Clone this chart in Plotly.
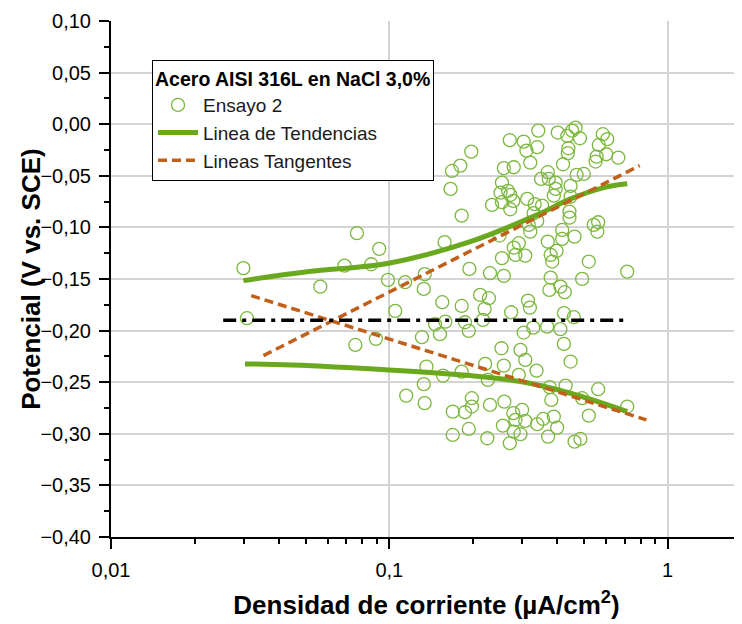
import plotly.graph_objects as go

# Scatter data (Ensayo 2): current density (µA/cm²) and potential (V vs SCE)
ens_x = [0.0299, 0.0765, 0.0920, 0.0690, 0.0861, 0.0565, 0.0989, 0.114, 0.134, 0.133,
         0.158, 0.182, 0.166, 0.168, 0.180, 0.197, 0.194,
         0.271, 0.304, 0.343, 0.340, 0.311, 0.321, 0.258, 0.280, 0.403, 0.436,
         0.467, 0.454, 0.484, 0.440, 0.438, 0.421, 0.585, 0.607, 0.566, 0.602,
         0.556, 0.551, 0.665, 0.254, 0.251, 0.267, 0.272, 0.254, 0.234, 0.279,
         0.272, 0.313, 0.333, 0.354, 0.351, 0.371, 0.374, 0.396, 0.396, 0.390,
         0.448, 0.448, 0.471, 0.500, 0.444, 0.444, 0.330, 0.340, 0.317, 0.321,
         0.249, 0.418, 0.418, 0.463, 0.371, 0.543, 0.563, 0.559, 0.292, 0.280,
         0.284, 0.308, 0.254, 0.399, 0.380, 0.385, 0.521, 0.230, 0.258, 0.380,
         0.493, 0.716, 0.412,
         0.0308, 0.0755, 0.0895, 0.105, 0.155, 0.182, 0.131, 0.146, 0.159, 0.152,
         0.187, 0.193, 0.136, 0.156, 0.182, 0.133, 0.115, 0.134, 0.198, 0.169,
         0.187, 0.198, 0.193, 0.169,
         0.212, 0.228, 0.220, 0.217, 0.274, 0.315, 0.320, 0.376, 0.427, 0.424,
         0.460, 0.304, 0.329, 0.369, 0.412, 0.424, 0.448, 0.253, 0.296, 0.308,
         0.258, 0.221, 0.338, 0.292, 0.226, 0.430, 0.377, 0.563, 0.382, 0.493,
         0.716, 0.230, 0.259, 0.279, 0.300, 0.284, 0.308, 0.357, 0.340, 0.390,
         0.401, 0.521, 0.256, 0.280, 0.296, 0.225, 0.271, 0.372, 0.463, 0.486]
ens_y = [-0.1395, -0.1056, -0.1208, -0.1370, -0.1357, -0.1574, -0.1509, -0.1531, -0.1453, -0.1596,
         -0.1143, -0.0886, -0.0627, -0.0453, -0.0401, -0.0266, -0.1402,
         -0.0155, -0.0169, -0.0062, -0.0223, -0.0256, -0.0372, -0.0426, -0.0417, -0.0081, -0.0113,
         -0.0033, -0.0062, -0.0136, -0.0233, -0.0281, -0.0388, -0.0097, -0.0145, -0.0201, -0.0291,
         -0.0314, -0.0362, -0.0324, -0.0566, -0.0663, -0.0646, -0.0685, -0.0756, -0.0782, -0.0743,
         -0.0824, -0.0724, -0.0775, -0.0789, -0.0530, -0.0465, -0.0530, -0.0566, -0.0627, -0.0692,
         -0.0598, -0.0702, -0.0491, -0.0482, -0.0847, -0.0905, -0.0862, -0.0937, -0.0976, -0.1041,
         -0.1079, -0.1024, -0.1111, -0.1089, -0.1138, -0.0976, -0.0950, -0.1041, -0.1153, -0.1196,
         -0.1266, -0.1273, -0.1298, -0.1228, -0.1266, -0.1331, -0.1331, -0.1444, -0.1470, -0.1486,
         -0.1499, -0.1428, -0.1574,
         -0.1880, -0.2139, -0.2080, -0.1809, -0.1725, -0.1761, -0.2064, -0.1938, -0.1913, -0.2035,
         -0.1919, -0.2003, -0.2349, -0.2436, -0.2397, -0.2519, -0.2630, -0.2703, -0.2655, -0.2785,
         -0.2791, -0.2736, -0.2953, -0.3011,
         -0.1654, -0.1686, -0.1790, -0.1896, -0.1822, -0.1709, -0.1777, -0.1606, -0.1628, -0.1831,
         -0.1870, -0.2019, -0.1971, -0.1961, -0.1986, -0.2129, -0.2300, -0.2171, -0.2187, -0.2284,
         -0.2339, -0.2323, -0.2388, -0.2429, -0.2478, -0.2533, -0.2548, -0.2568, -0.2672, -0.2655,
         -0.2736, -0.2720, -0.2688, -0.2800, -0.2768, -0.2865, -0.2875, -0.2856, -0.2907, -0.2833,
         -0.2940, -0.2824, -0.2921, -0.2979, -0.3004, -0.3043, -0.3091, -0.3027, -0.3076, -0.3050]

# Trend lines (Linea de Tendencias)
trend_up_x = [0.0299, 0.0513, 0.0994, 0.1954, 0.3396, 0.4477, 0.590, 0.716]
trend_up_y = [-0.1516, -0.1428, -0.1347, -0.1138, -0.0879, -0.0724, -0.0614, -0.0578]
trend_lo_x = [0.0303, 0.0447, 0.0994, 0.1954, 0.296, 0.4477, 0.716]
trend_lo_y = [-0.2323, -0.2333, -0.2381, -0.2436, -0.2494, -0.2607, -0.2785]

# Tangent lines (Lineas Tangentes)
tan1_x = [0.0353, 0.794]
tan1_y = [-0.2242, -0.0401]
tan2_x = [0.0319, 0.839]
tan2_y = [-0.1661, -0.2865]

# Corrosion potential line
ecorr_x = [0.0253, 0.726]
ecorr_y = [-0.19, -0.19]

x_tickvals = [0.01, 0.1, 1]
x_ticktext = ["0,01", "0,1", "1"]

GREEN = "#6aa81e"
MARK = "#7cb83e"
BROWN = "#c0601b"
FONT = "Liberation Sans, Arial, sans-serif"

fig = go.Figure()
fig.add_trace(go.Scatter(x=ens_x, y=ens_y, mode="markers", name="Ensayo 2",
                         marker=dict(symbol="circle-open", size=13, color=MARK,
                                     line=dict(width=1.3, color=MARK))))
fig.add_trace(go.Scatter(x=trend_up_x, y=trend_up_y, mode="lines", name="Linea de Tendencias",
                         line=dict(color=GREEN, width=5, shape="spline")))
fig.add_trace(go.Scatter(x=trend_lo_x, y=trend_lo_y, mode="lines", showlegend=False,
                         line=dict(color=GREEN, width=5, shape="spline")))
fig.add_trace(go.Scatter(x=tan1_x, y=tan1_y, mode="lines", name="Lineas Tangentes",
                         line=dict(color=BROWN, width=3.5, dash="9px,5px")))
fig.add_trace(go.Scatter(x=tan2_x, y=tan2_y, mode="lines", showlegend=False,
                         line=dict(color=BROWN, width=3.5, dash="9px,5px")))
fig.add_trace(go.Scatter(x=ecorr_x, y=ecorr_y, mode="lines", showlegend=False,
                         line=dict(color="black", width=3.5, dash="13px,6px,4px,6px")))

fig.update_layout(
    width=734, height=616,
    margin=dict(l=103, r=0, t=13, b=87),
    paper_bgcolor="white", plot_bgcolor="white",
    separators=",.",
    font=dict(family=FONT, size=20, color="black"),
    showlegend=True,
    legend=dict(
        x=0.065, y=0.925, xanchor="left", yanchor="top",
        bgcolor="white", bordercolor="black", borderwidth=1,
        font=dict(family=FONT, size=19, color="#1a1a1a"),
        title=dict(text="<b>Acero AISI 316L en NaCl 3,0%</b>", font=dict(family=FONT, size=19.5, color="black")),
        itemwidth=40, tracegroupgap=0,
    ),
    xaxis=dict(
        type="log", range=[-2, 0.2673],
        tickvals=x_tickvals, ticktext=x_ticktext,
        ticks="outside", ticklen=10, tickwidth=2, tickcolor="black",
        ticklabelstandoff=4,
        showline=True, linecolor="black", linewidth=2,
        showgrid=True, gridcolor="#d4d4d4", gridwidth=1.5,
        zeroline=False,
        minor=dict(ticks="outside", ticklen=5, tickwidth=2, tickcolor="black",
                   dtick="D1", showgrid=False),
        title=dict(text="<b>Densidad de corriente (µA/cm<sup>2</sup>)</b>",
                   font=dict(family=FONT, size=26), standoff=16),
        tickfont=dict(family=FONT, size=20),
    ),
    yaxis=dict(
        range=[-0.40, 0.10], dtick=0.05, tick0=0, tickformat=".2f",
        ticks="outside", ticklen=10, tickwidth=2, tickcolor="black",
        ticklabelstandoff=4,
        showline=True, linecolor="black", linewidth=2,
        showgrid=True, gridcolor="#d4d4d4", gridwidth=1.5,
        zeroline=False,
        minor=dict(ticks="outside", ticklen=5, tickwidth=2, tickcolor="black",
                   dtick=0.025, showgrid=False),
        tickfont=dict(family=FONT, size=20),
    ),
    annotations=[dict(
        text="<b>Potencial (V vs. SCE)</b>", textangle=-90,
        xref="paper", yref="paper", x=-0.127, y=0.5,
        xanchor="center", yanchor="middle", showarrow=False,
        font=dict(family=FONT, size=26, color="black"),
    )],
)

fig.write_html("out.html")
